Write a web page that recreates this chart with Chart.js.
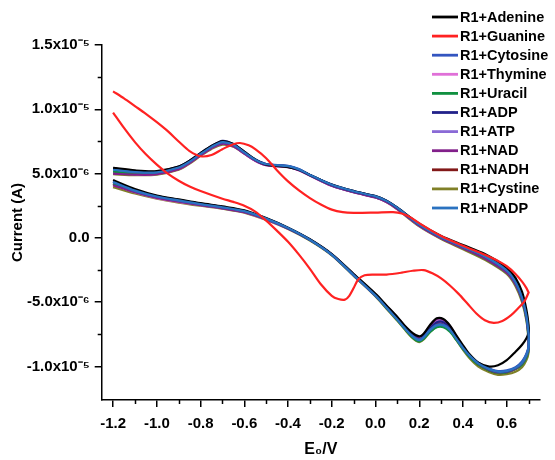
<!DOCTYPE html>
<html>
<head>
<meta charset="utf-8">
<script src="https://cdn.jsdelivr.net/npm/chart.js@4.4.1/dist/chart.umd.min.js"></script>
<style>
  html, body { margin: 0; padding: 0; background: #ffffff; }
  #wrap { width: 555px; height: 460px; }
</style>
</head>
<body>
<div id="wrap"><canvas id="c" width="555" height="460"></canvas></div>
<script>
// ---------- DATA (current in units of 1e-6 A, potential in V) ----------
const seriesNames = ['R1+Adenine','R1+Guanine','R1+Cytosine','R1+Thymine','R1+Uracil','R1+ADP','R1+ATP','R1+NAD','R1+NADH','R1+Cystine','R1+NADP'];

// shared potential grid for the ten similar scans
const scanForwardE = [-1.2,-1.1,-1.0,-0.9,-0.85,-0.8,-0.75,-0.7,-0.65,-0.6,-0.55,-0.5,-0.4,-0.35,-0.3,-0.2,-0.1,0.0,0.05,0.1,0.2,0.3,0.4,0.5,0.6,0.64,0.67,0.69,0.7];
const scanReverseE = [0.7,0.69,0.67,0.64,0.6,0.56,0.52,0.47,0.43,0.4,0.37,0.34,0.31,0.28,0.25,0.22,0.2,0.17,0.13,0.1,0.05,0.0,-0.1,-0.2,-0.3,-0.4,-0.5,-0.6,-0.7,-0.8,-0.9,-1.0,-1.1,-1.2];

const adenineFwd  = [5.45,5.25,5.2,5.55,6.0,6.6,7.15,7.5,7.3,6.7,6.1,5.7,5.5,5.3,4.9,4.15,3.65,3.25,2.9,2.35,1.1,0.15,-0.55,-1.25,-2.3,-3.1,-4.2,-5.6,-6.8];
const adenineRev  = [-7.3,-7.8,-8.3,-8.85,-9.5,-9.9,-10.0,-9.7,-9.05,-8.35,-7.6,-6.8,-6.3,-6.25,-6.75,-7.45,-7.65,-7.4,-6.75,-6.15,-5.25,-4.35,-2.8,-1.25,-0.1,0.8,1.55,2.15,2.45,2.7,3.0,3.3,3.8,4.5];
const cytosineFwd = [5.35,5.15,5.12,5.5,5.95,6.55,7.1,7.45,7.25,6.65,6.1,5.75,5.6,5.35,4.9,4.15,3.65,3.25,2.9,2.35,1.05,0.1,-0.65,-1.4,-2.5,-3.4,-4.6,-6.0,-7.5];
const cytosineRev = [-8.4,-9.0,-9.6,-10.05,-10.3,-10.35,-10.15,-9.7,-9.1,-8.5,-7.8,-7.1,-6.75,-6.75,-7.15,-7.7,-7.9,-7.65,-6.95,-6.35,-5.4,-4.5,-2.9,-1.3,-0.12,0.78,1.5,2.1,2.4,2.65,2.9,3.2,3.65,4.35];
const thymineFwd  = [5.05,4.95,4.98,5.38,5.85,6.45,7.0,7.35,7.15,6.55,6.0,5.65,5.5,5.25,4.85,4.05,3.55,3.15,2.8,2.25,0.95,0.0,-0.75,-1.55,-2.65,-3.55,-4.75,-6.15,-7.7];
const thymineRev  = [-8.5,-9.15,-9.75,-10.15,-10.4,-10.45,-10.25,-9.8,-9.2,-8.6,-7.85,-7.05,-6.55,-6.5,-6.95,-7.6,-7.8,-7.55,-6.85,-6.25,-5.35,-4.45,-2.85,-1.3,-0.15,0.72,1.42,2.0,2.3,2.55,2.8,3.1,3.55,4.15];
const uracilFwd   = [5.15,5.0,5.02,5.42,5.88,6.48,7.02,7.38,7.18,6.6,6.05,5.72,5.57,5.3,4.88,4.08,3.58,3.17,2.83,2.28,0.98,0.0,-0.78,-1.6,-2.7,-3.6,-4.85,-6.3,-7.9];
const uracilRev   = [-8.7,-9.3,-9.85,-10.2,-10.45,-10.5,-10.3,-9.85,-9.25,-8.65,-7.95,-7.3,-6.95,-6.95,-7.3,-7.85,-8.05,-7.75,-7.0,-6.4,-5.45,-4.5,-2.9,-1.32,-0.17,0.73,1.45,2.02,2.32,2.57,2.85,3.15,3.6,4.2];
const adpFwd      = [5.4,5.2,5.15,5.55,6.0,6.6,7.15,7.55,7.3,6.7,6.1,5.75,5.58,5.32,4.9,4.12,3.62,3.22,2.88,2.32,1.02,0.05,-0.7,-1.45,-2.55,-3.45,-4.65,-6.05,-7.6];
const adpRev      = [-8.45,-9.05,-9.65,-10.1,-10.35,-10.4,-10.2,-9.75,-9.15,-8.55,-7.8,-7.0,-6.55,-6.55,-7.0,-7.65,-7.9,-7.6,-6.9,-6.3,-5.4,-4.5,-2.9,-1.32,-0.15,0.76,1.5,2.08,2.4,2.66,2.95,3.25,3.7,4.4];
const atpFwd      = [5.1,4.98,5.0,5.4,5.86,6.46,7.0,7.35,7.15,6.58,6.02,5.68,5.53,5.28,4.86,4.06,3.56,3.15,2.82,2.27,0.97,0.0,-0.77,-1.57,-2.68,-3.6,-4.8,-6.2,-7.8];
const atpRev      = [-8.6,-9.2,-9.8,-10.15,-10.4,-10.45,-10.25,-9.8,-9.2,-8.55,-7.8,-7.0,-6.5,-6.45,-6.9,-7.55,-7.75,-7.5,-6.8,-6.2,-5.3,-4.4,-2.85,-1.28,-0.13,0.74,1.45,2.02,2.32,2.58,2.88,3.18,3.62,4.2];
const nadFwd      = [5.0,4.92,4.95,5.35,5.82,6.42,6.98,7.32,7.12,6.55,6.0,5.66,5.52,5.27,4.85,4.05,3.55,3.14,2.8,2.25,0.95,-0.02,-0.8,-1.6,-2.7,-3.6,-4.8,-6.2,-7.75];
const nadRev      = [-8.55,-9.15,-9.75,-10.15,-10.4,-10.45,-10.25,-9.75,-9.1,-8.45,-7.65,-6.85,-6.35,-6.3,-6.8,-7.5,-7.7,-7.45,-6.8,-6.2,-5.3,-4.42,-2.85,-1.28,-0.14,0.74,1.44,2.0,2.3,2.55,2.82,3.12,3.55,4.1];
const nadhFwd     = [5.12,5.0,5.02,5.42,5.87,6.47,7.02,7.37,7.17,6.6,6.04,5.7,5.55,5.3,4.87,4.07,3.57,3.16,2.83,2.28,0.98,0.0,-0.77,-1.57,-2.66,-3.57,-4.75,-6.15,-7.75];
const nadhRev     = [-8.6,-9.2,-9.8,-10.2,-10.45,-10.5,-10.3,-9.85,-9.2,-8.55,-7.8,-7.05,-6.65,-6.65,-7.05,-7.65,-7.85,-7.6,-6.9,-6.3,-5.35,-4.45,-2.87,-1.3,-0.15,0.74,1.46,2.03,2.33,2.6,2.9,3.2,3.65,4.25];
const cystineFwd  = [4.95,4.88,4.92,5.3,5.78,6.38,6.92,7.25,7.1,6.55,6.02,5.7,5.57,5.32,4.9,4.1,3.58,3.16,2.8,2.22,0.9,-0.08,-0.88,-1.7,-2.8,-3.75,-5.0,-6.45,-8.1];
const cystineRev  = [-8.9,-9.5,-10.05,-10.4,-10.6,-10.65,-10.45,-10.0,-9.35,-8.7,-7.95,-7.2,-6.85,-6.9,-7.3,-7.9,-8.1,-7.8,-7.05,-6.45,-5.5,-4.55,-2.95,-1.35,-0.2,0.7,1.4,1.97,2.27,2.5,2.75,3.05,3.45,3.95];
const nadpFwd     = [5.3,5.12,5.1,5.48,5.93,6.53,7.08,7.45,7.25,6.65,6.08,5.73,5.58,5.33,4.9,4.13,3.63,3.23,2.88,2.33,1.03,0.05,-0.7,-1.45,-2.55,-3.45,-4.65,-6.05,-7.6];
const nadpRev     = [-8.5,-9.1,-9.7,-10.1,-10.35,-10.4,-10.2,-9.75,-9.15,-8.55,-7.85,-7.15,-6.8,-6.8,-7.15,-7.75,-7.95,-7.65,-6.95,-6.35,-5.4,-4.48,-2.88,-1.3,-0.14,0.77,1.5,2.08,2.38,2.63,2.92,3.22,3.68,4.35];

// guanine scan has its own potential grid
const guanineFwdE = [-1.2,-1.15,-1.1,-1.05,-1.0,-0.95,-0.9,-0.85,-0.8,-0.75,-0.7,-0.65,-0.62,-0.58,-0.55,-0.5,-0.45,-0.4,-0.35,-0.3,-0.25,-0.2,-0.15,-0.1,0.0,0.08,0.12,0.16,0.2,0.3,0.4,0.5,0.55,0.6,0.64,0.67,0.69,0.7];
const guanineFwd  = [11.4,10.85,10.25,9.65,9.0,8.3,7.5,6.75,6.35,6.45,6.9,7.28,7.38,7.2,6.9,6.2,5.25,4.4,3.7,3.1,2.6,2.2,2.0,1.95,1.97,2.0,1.9,1.6,1.15,0.15,-0.6,-1.3,-1.7,-2.2,-2.8,-3.4,-3.9,-4.25];
const guanineRevE = [0.7,0.68,0.65,0.62,0.58,0.54,0.5,0.46,0.42,0.38,0.34,0.3,0.26,0.22,0.17,0.12,0.05,0.0,-0.05,-0.08,-0.1,-0.12,-0.14,-0.17,-0.2,-0.25,-0.3,-0.35,-0.4,-0.45,-0.5,-0.55,-0.6,-0.65,-0.7,-0.8,-0.85,-0.9,-0.95,-1.0,-1.05,-1.1,-1.15,-1.2];
const guanineRev  = [-4.25,-4.95,-5.5,-6.0,-6.45,-6.6,-6.4,-5.85,-5.1,-4.35,-3.7,-3.15,-2.75,-2.5,-2.55,-2.7,-2.85,-2.85,-2.9,-3.25,-3.9,-4.5,-4.8,-4.75,-4.5,-3.6,-2.4,-1.3,-0.3,0.55,1.35,2.05,2.5,2.8,3.05,3.65,4.0,4.45,5.0,5.7,6.5,7.45,8.55,9.75];

// axis ticks
const xTickValues = [-1.2,-1.0,-0.8,-0.6,-0.4,-0.2,0.0,0.2,0.4,0.6];
const xTickLabels = ['-1.2','-1.0','-0.8','-0.6','-0.4','-0.2','0.0','0.2','0.4','0.6'];
const xMinorTicks = [-1.1,-0.9,-0.7,-0.5,-0.3,-0.1,0.1,0.3,0.5,0.7];
const yTickValues = [15,10,5,0,-5,-10];
const yTickLabels = ['1.5x10\u207B\u2075','1.0x10\u207B\u2075','5.0x10\u207B\u2076','0.0','-5.0x10\u207B\u2076','-1.0x10\u207B\u2075'];
const yMinorTicks = [12.5,7.5,2.5,-2.5,-7.5];

// ---------- BUILD ----------
const colors = ['#000000','#ff2222','#3355c0','#e070d8','#109040','#22228a','#8a6ad6','#82208a','#821818','#808028','#2a72c0'];
function loop(eF, iF, eR, iR) {
  const pts = [];
  for (let k = 0; k < eF.length; k++) pts.push({x: eF[k], y: iF[k]});
  for (let k = 0; k < eR.length; k++) pts.push({x: eR[k], y: iR[k]});
  return pts;
}
const curves = [
  loop(scanForwardE, adenineFwd, scanReverseE, adenineRev),
  loop(guanineFwdE, guanineFwd, guanineRevE, guanineRev),
  loop(scanForwardE, cytosineFwd, scanReverseE, cytosineRev),
  loop(scanForwardE, thymineFwd, scanReverseE, thymineRev),
  loop(scanForwardE, uracilFwd, scanReverseE, uracilRev),
  loop(scanForwardE, adpFwd, scanReverseE, adpRev),
  loop(scanForwardE, atpFwd, scanReverseE, atpRev),
  loop(scanForwardE, nadFwd, scanReverseE, nadRev),
  loop(scanForwardE, nadhFwd, scanReverseE, nadhRev),
  loop(scanForwardE, cystineFwd, scanReverseE, cystineRev),
  loop(scanForwardE, nadpFwd, scanReverseE, nadpRev)
];
// drawing order: lower 'order' is painted on top
const drawOrder = [3, 1, 4, 8, 7, 5, 9, 6, 10, 11, 2];
const datasets = seriesNames.map((name, i) => ({
  label: name,
  data: curves[i],
  showLine: true,
  borderColor: colors[i],
  backgroundColor: colors[i],
  borderWidth: 2.2,
  pointRadius: 0,
  tension: 0.3,
  fill: false,
  order: drawOrder[i]
}));

const FONT = '"Liberation Sans", Arial, Helvetica, sans-serif';

const minorTicksPlugin = {
  id: 'minorTicks',
  afterDraw(chart) {
    const ctx = chart.ctx, xs = chart.scales.x, ys = chart.scales.y;
    ctx.save();
    ctx.strokeStyle = '#000';
    ctx.lineWidth = 1.5;
    yMinorTicks.forEach(v => {
      const p = Math.round(ys.getPixelForValue(v)) + 0.5;
      ctx.beginPath(); ctx.moveTo(ys.right - 4, p); ctx.lineTo(ys.right, p); ctx.stroke();
    });
    xMinorTicks.forEach(v => {
      const p = Math.round(xs.getPixelForValue(v)) + 0.5;
      ctx.beginPath(); ctx.moveTo(p, xs.top); ctx.lineTo(p, xs.top + 4); ctx.stroke();
    });
    ctx.restore();
  }
};

const legendPlugin = {
  id: 'cornerLegend',
  afterDraw(chart) {
    const ctx = chart.ctx;
    ctx.save();
    ctx.font = 'bold 14.5px ' + FONT;
    ctx.textBaseline = 'middle';
    ctx.textAlign = 'left';
    chart.data.datasets.forEach((ds, i) => {
      const y = 17 + i * 19.1;
      ctx.strokeStyle = ds.borderColor;
      ctx.lineWidth = 2.8;
      ctx.beginPath(); ctx.moveTo(432, y); ctx.lineTo(458, y); ctx.stroke();
      ctx.fillStyle = '#000';
      ctx.fillText(ds.label, 460, y + 0.5);
    });
    ctx.restore();
  }
};

new Chart(document.getElementById('c'), {
  type: 'scatter',
  data: { datasets },
  options: {
    responsive: false,
    devicePixelRatio: 1,
    animation: false,
    layout: { padding: { top: 45, right: 15, left: 0, bottom: 0 } },
    plugins: { legend: { display: false }, tooltip: { enabled: false } },
    scales: {
      x: {
        type: 'linear',
        min: -1.252,
        max: 0.752,
        afterBuildTicks: s => { s.ticks = xTickValues.map(v => ({ value: v })); },
        afterFit: s => { s.height = 60; },
        grid: { drawOnChartArea: false, drawTicks: true, tickLength: 7, color: '#000', lineWidth: 1.5 },
        border: { display: true, color: '#000', width: 1.5 },
        ticks: {
          autoSkip: false, maxRotation: 0, padding: 8, color: '#000',
          font: { family: FONT, size: 15, weight: 'bold' },
          callback: (v, i) => xTickLabels[i]
        },
        title: {
          display: true, text: 'E\u2080/V', color: '#000',
          font: { family: FONT, size: 16, weight: 'bold' },
          padding: { top: 0, bottom: 1 }
        }
      },
      y: {
        type: 'linear',
        min: -12.6,
        max: 15,
        afterBuildTicks: s => { s.ticks = yTickValues.map(v => ({ value: v })); },
        afterFit: s => { s.width = 101.7; },
        grid: { drawOnChartArea: false, drawTicks: true, tickLength: 7, color: '#000', lineWidth: 1.5 },
        border: { display: true, color: '#000', width: 1.5 },
        ticks: {
          autoSkip: false, padding: 5, color: '#000',
          font: { family: FONT, size: 15, weight: 'bold' },
          callback: (v, i) => yTickLabels[i]
        },
        title: {
          display: true, text: 'Current (A)', color: '#000',
          font: { family: FONT, size: 15, weight: 'bold' },
          padding: { top: 9, bottom: 0 }
        }
      }
    }
  },
  plugins: [minorTicksPlugin, legendPlugin]
});
</script>
</body>
</html>
